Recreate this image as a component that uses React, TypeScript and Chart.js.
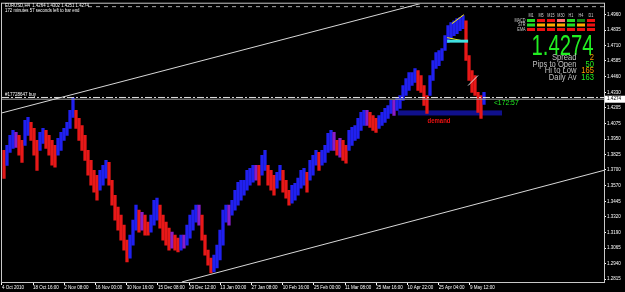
import React, { useEffect, useRef } from "react";
import { Chart, registerables } from "chart.js";
Chart.register(...registerables);

// ---- data (EURUSD H4, one entry per ~3 bars) ----
const highs = [
  1.3859, 1.39, 1.3981, 1.4021, 1.4005, 1.3981, 1.394, 1.4102, 1.4126, 1.4086,
  1.4037, 1.394, 1.4005, 1.4037, 1.4021, 1.3981, 1.394, 1.39, 1.3956, 1.4005,
  1.4037, 1.4086, 1.4183, 1.4288, 1.4183, 1.4118, 1.4061, 1.3981, 1.3859, 1.3778,
  1.3697, 1.3657, 1.3697, 1.3738, 1.3778, 1.3762, 1.3616, 1.3495, 1.3398, 1.3333,
  1.3252, 1.3131, 1.3171, 1.3293, 1.3414, 1.3374, 1.3357, 1.3333, 1.3276, 1.3333,
  1.3454, 1.3471, 1.3414, 1.3333, 1.3276, 1.3228, 1.3195, 1.3171, 1.3147, 1.3171,
  1.3171, 1.3252, 1.3333, 1.3374, 1.3414, 1.3414, 1.3333, 1.3171, 1.305, 1.2985,
  1.3009, 1.309, 1.3212, 1.3374, 1.3414, 1.3414, 1.3454, 1.3535, 1.36, 1.3616,
  1.3616, 1.3697, 1.3713, 1.3738, 1.3738, 1.3738, 1.3819, 1.3859, 1.3738, 1.3697,
  1.3657, 1.3681, 1.3738, 1.3697, 1.3616, 1.3535, 1.3576, 1.3592, 1.3633, 1.3697,
  1.3713, 1.3681, 1.3778, 1.3819, 1.3859, 1.3843, 1.3859, 1.39, 1.3997, 1.4021,
  1.4005, 1.394, 1.3956, 1.394, 1.39, 1.4021, 1.4045, 1.4061, 1.4118, 1.4167,
  1.4183, 1.4183, 1.4167, 1.4142, 1.4118, 1.4142, 1.4167, 1.4199, 1.4223, 1.4264,
  1.4264, 1.428, 1.4304, 1.4385, 1.4442, 1.449, 1.449, 1.4523, 1.4507, 1.4466,
  1.4385, 1.4304, 1.4466, 1.4588, 1.4652, 1.4669, 1.4685, 1.479, 1.4871, 1.4895,
  1.4911, 1.4928, 1.4936, 1.4952, 1.4911, 1.4628, 1.4507, 1.4466, 1.4329, 1.4304,
  1.4329,
];
const lows = [
  1.3632, 1.3737, 1.3843, 1.3875, 1.3883, 1.3819, 1.3762, 1.39, 1.3981, 1.394,
  1.3819, 1.3697, 1.3859, 1.3916, 1.3875, 1.3819, 1.3738, 1.3722, 1.3819, 1.3859,
  1.394, 1.3981, 1.4037, 1.4126, 1.4037, 1.394, 1.3859, 1.3778, 1.3657, 1.3576,
  1.3519, 1.3454, 1.3535, 1.3576, 1.3633, 1.3576, 1.3414, 1.3293, 1.3212, 1.3131,
  1.305, 1.2953, 1.2985, 1.309, 1.3212, 1.3195, 1.3212, 1.3171, 1.3171, 1.3195,
  1.3252, 1.3293, 1.3228, 1.3131, 1.309, 1.305, 1.3066, 1.305, 1.3034, 1.305,
  1.3066, 1.309, 1.3147, 1.3212, 1.3276, 1.3252, 1.3131, 1.3009, 1.2928, 1.2864,
  1.2872, 1.2904, 1.2969, 1.309, 1.3276, 1.3252, 1.3333, 1.3374, 1.3414, 1.3454,
  1.3495, 1.3535, 1.3576, 1.36, 1.3616, 1.3576, 1.3657, 1.3697, 1.3576, 1.3535,
  1.3495, 1.3552, 1.3616, 1.3519, 1.3471, 1.3414, 1.343, 1.3454, 1.3495, 1.3552,
  1.3576, 1.3519, 1.3616, 1.3657, 1.3738, 1.3697, 1.3738, 1.3762, 1.3843, 1.3859,
  1.3859, 1.3819, 1.3803, 1.3778, 1.3754, 1.3859, 1.39, 1.394, 1.3956, 1.4021,
  1.4061, 1.4061, 1.4045, 1.4021, 1.4005, 1.4037, 1.4061, 1.4086, 1.4118, 1.4159,
  1.4142, 1.4183, 1.4199, 1.4264, 1.4304, 1.4345, 1.4385, 1.441, 1.4345, 1.4329,
  1.4223, 1.4159, 1.4304, 1.4426, 1.4523, 1.4547, 1.4588, 1.4669, 1.4733, 1.4766,
  1.479, 1.4806, 1.483, 1.4847, 1.4588, 1.4426, 1.4329, 1.4304, 1.4167, 1.4118,
  1.4231,
];

const priceTicks = [
  1.496, 1.4835, 1.471, 1.4585, 1.446, 1.433, 1.4205, 1.4075, 1.395, 1.3825,
  1.37, 1.357, 1.3445, 1.332, 1.319, 1.3065, 1.294, 1.2815,
];
const timeLabels = [
  "4 Oct 2010", "18 Oct 16:00", "2 Nov 08:00", "16 Nov 00:00", "30 Nov 16:00",
  "15 Dec 08:00", "29 Dec 12:00", "13 Jan 00:00", "27 Jan 08:00", "10 Feb 16:00",
  "25 Feb 00:00", "11 Mar 08:00", "25 Mar 16:00", "10 Apr 22:00", "25 Apr 04:00",
  "9 May 12:00",
];
const timeLabelBars = [-0.67, 9.7, 20.1, 30.5, 40.9, 51.3, 61.7, 72.1, 82.5, 92.9, 103.3, 113.7, 124.1, 134.5, 144.9, 155.3];

const bidPrice = 1.4274;
const orderPrice = 1.4288;
const topLevel = 1.5025;
const upperChannel = [ { x: -0.67, y: 1.4163 }, { x: 138.7, y: 1.5049 } ];
const lowerChannel = [ { x: 59.3, y: 1.2791 }, { x: 200, y: 1.3697 } ];
const yellowUpper = [ { x: 149.3, y: 1.4887 }, { x: 153.3, y: 1.496 } ];
const yellowLower = [ { x: 147.7, y: 1.4774 }, { x: 154.3, y: 1.4741 } ];
const whiteShort = [ { x: 154.7, y: 1.4385 }, { x: 158, y: 1.4466 } ];
const demandZone = { from: 131.3, to: 166, top: 1.4183, bottom: 1.4142 };
const cyanZone = { from: 147.7, to: 154.7, top: 1.4757, bottom: 1.4733 };

const dashRows = ["MACD", "STR", "EMA"];
const dashCols = ["M1", "M5", "M15", "M30", "H1", "H4", "D1"];
const dashColors = [
  ["#22dd22", "#ee1111", "#ee1111", "#ff7070", "#22dd22", "#118811", "#ee1111"],
  ["#22dd22", "#ffaa00", "#ffaa00", "#ffaa00", "#22dd22", "#ffaa00", "#ee1111"],
  ["#ee1111", "#ee1111", "#ee1111", "#ee1111", "#ee1111", "#ee1111", "#ee1111"],
];
const infoRows = [
  { label: "Spread", value: "2", color: "#ff9900" },
  { label: "Pips to Open", value: "50", color: "#22ee22" },
  { label: "Hi to Low", value: "165", color: "#ff9900" },
  { label: "Daily Av", value: "163", color: "#22ee22" },
];

const X_MIN = -0.667;
const X_MAX = 200;
const Y_MIN = 1.27907;
const Y_MAX = 1.5049;
const FONT = "'Liberation Sans', Arial, sans-serif";

const barData = highs.map((h, i) => ({ x: i, y: [lows[i], h] }));
const barColors = highs.map((h, i) => {
  if (i === 0) return "#e01818";
  const mid = (h + lows[i]) / 2;
  const prev = (highs[i - 1] + lows[i - 1]) / 2;
  if (Math.abs(mid - prev) < 0.0013) return "#8a1cc8";
  return mid > prev ? "#2020f0" : "#e81818";
});

function squeezeText(ctx: any, text: string, x: number, y: number, sx: number, align: string) {
  ctx.save();
  ctx.translate(x, y);
  ctx.scale(sx, 1);
  ctx.textAlign = align;
  ctx.fillText(text, 0, 0);
  ctx.restore();
}

const overlay = {
  id: "overlay",
  beforeDraw(chart: any) {
    const { ctx, width, height } = chart;
    ctx.save();
    ctx.fillStyle = "#000";
    ctx.fillRect(0, 0, width, height);
    ctx.restore();
  },
  beforeDatasetsDraw(chart: any) {
    const { ctx, chartArea: a, scales } = chart;
    const x = scales.x, y = scales.y;
    ctx.save();
    ctx.beginPath();
    ctx.rect(a.left, a.top, a.right - a.left, a.bottom - a.top);
    ctx.clip();
    const x1 = x.getPixelForValue(demandZone.from), x2 = x.getPixelForValue(demandZone.to);
    const y1 = y.getPixelForValue(demandZone.top), y2 = y.getPixelForValue(demandZone.bottom);
    ctx.fillStyle = "#10108c";
    ctx.fillRect(x1, y1, x2 - x1, y2 - y1);
    ctx.restore();
  },
  afterDatasetsDraw(chart: any) {
    const { ctx, chartArea: a, scales } = chart;
    const x = scales.x, y = scales.y;
    ctx.save();
    ctx.beginPath();
    ctx.rect(a.left, a.top, a.right - a.left, a.bottom - a.top);
    ctx.clip();
    const x1 = x.getPixelForValue(cyanZone.from), x2 = x.getPixelForValue(cyanZone.to);
    const y1 = y.getPixelForValue(cyanZone.top), y2 = y.getPixelForValue(cyanZone.bottom);
    ctx.fillStyle = "#40e0e0";
    ctx.fillRect(x1, y1, x2 - x1, y2 - y1);
    ctx.restore();
  },
  afterDraw(chart: any) {
    const { ctx, chartArea: a, scales } = chart;
    const x = scales.x, y = scales.y;
    ctx.save();
    // frame
    ctx.strokeStyle = "#c8c8c8";
    ctx.lineWidth = 1;
    ctx.strokeRect(a.left - 0.5, a.top - 0.5, a.right - a.left + 1, a.bottom - a.top + 1);

    // top-left info
    ctx.fillStyle = "#ffffff";
    ctx.font = "6px " + FONT;
    ctx.textBaseline = "middle";
    squeezeText(ctx, "EURUSD,H4  1.4264 1.4302 1.4251 1.4274", 5, 5.5, 0.72, "left");
    squeezeText(ctx, "172 minutes 57 seconds left to bar end", 5, 10.5, 0.72, "left");
    squeezeText(ctx, "#17728647 buy", 5, y.getPixelForValue(orderPrice) - 3.5, 0.75, "left");

    // demand label
    ctx.fillStyle = "#ee1111";
    ctx.font = "bold 7px " + FONT;
    squeezeText(ctx, "demand", x.getPixelForValue(145), y.getPixelForValue(1.4094), 0.85, "center");

    // bar timer
    ctx.fillStyle = "#22ee22";
    ctx.font = "8px " + FONT;
    squeezeText(ctx, "<172:57", x.getPixelForValue(163.3), y.getPixelForValue(1.4242), 0.85, "left");

    // dashboard
    const colX = [527, 537, 547, 557, 567, 577, 587];
    const rowY = [19, 23.5, 28];
    ctx.font = "5px " + FONT;
    ctx.fillStyle = "#d0d0d0";
    dashCols.forEach((c, i) => squeezeText(ctx, c, colX[i] + 4, 15.5, 0.75, "center"));
    dashRows.forEach((r, j) => squeezeText(ctx, r, 525.5, rowY[j] + 1.5, 0.75, "right"));
    dashColors.forEach((row, j) =>
      row.forEach((col, i) => {
        ctx.fillStyle = col;
        ctx.fillRect(colX[i], rowY[j], 8, 3);
      })
    );
    ctx.fillStyle = "#22ee22";
    ctx.font = "29px " + FONT;
    ctx.textBaseline = "alphabetic";
    squeezeText(ctx, bidPrice.toFixed(4), 562.5, 55, 0.7, "center");
    ctx.font = "9.5px " + FONT;
    ctx.textBaseline = "middle";
    infoRows.forEach((r, j) => {
      const yy = 57.5 + j * 6.6;
      ctx.fillStyle = "#c0c0c0";
      squeezeText(ctx, r.label, 576.5, yy, 0.8, "right");
      ctx.fillStyle = r.color;
      squeezeText(ctx, r.value, 594, yy, 0.8, "right");
    });

    // current price box
    const py = y.getPixelForValue(bidPrice);
    ctx.fillStyle = "#ffffff";
    ctx.fillRect(a.right + 1, py - 3.5, 20, 7);
    ctx.fillStyle = "#000";
    ctx.font = "4.6px " + FONT;
    squeezeText(ctx, bidPrice.toFixed(4), a.right + 3, py, 1, "left");
    ctx.restore();
  },
};

export default function App() {
  const ref = useRef<HTMLCanvasElement>(null);
  useEffect(() => {
    const hline = (p: number, from = X_MIN) => [ { x: from, y: p }, { x: X_MAX, y: p } ];
    const lineDs = (data: any, color: string, extra: any = {}) => ({
      type: "line",
      data,
      borderColor: color,
      borderWidth: 1,
      pointRadius: 0,
      order: 0,
      ...extra,
    });
    const chart = new Chart(ref.current as HTMLCanvasElement, {
      type: "bar",
      data: {
        datasets: [
          lineDs(upperChannel, "#d8d8d8"),
          lineDs(lowerChannel, "#d8d8d8"),
          lineDs(hline(orderPrice), "#e0e0e0", { borderDash: [7, 2, 2, 2] }),
          lineDs(hline(bidPrice), "#9a9a9a"),
          lineDs(hline(topLevel, 28), "#a8a8a8", { borderDash: [4, 4] }),
          lineDs(yellowUpper, "#ffee00"),
          lineDs(yellowLower, "#ffee00"),
          lineDs(whiteShort, "#e0e0e0"),
          {
            type: "bar",
            data: barData,
            backgroundColor: barColors,
            barThickness: 2.6,
            borderWidth: 0,
            order: 5,
          },
        ],
      } as any,
      options: {
        responsive: false,
        animation: false,
        devicePixelRatio: 1,
        layout: { padding: { left: 2, top: 3, right: 0, bottom: 0 } },
        plugins: { legend: { display: false }, tooltip: { enabled: false } },
        scales: {
          x: {
            type: "linear",
            min: X_MIN,
            max: X_MAX,
            offset: false,
            afterFit(s: any) { s.height = 10; },
            afterBuildTicks(s: any) { s.ticks = timeLabelBars.map((v) => ({ value: v })); },
            ticks: {
              autoSkip: false,
              maxRotation: 0,
              minRotation: 0,
              align: "start",
              color: "#ffffff",
              padding: 0,
              font: { size: 4.5, family: FONT },
              callback: (_v: any, i: number) => timeLabels[i],
            },
            grid: { drawOnChartArea: false, color: "#ffffff", tickLength: 3, offset: false },
            border: { color: "#c8c8c8" },
          },
          y: {
            position: "right",
            min: Y_MIN,
            max: Y_MAX,
            afterFit(s: any) { s.width = 21; },
            afterBuildTicks(s: any) { s.ticks = priceTicks.map((v) => ({ value: v })); },
            ticks: {
              autoSkip: false,
              color: "#ffffff",
              padding: 1,
              font: { size: 4.5, family: FONT },
              callback: (v: any) => Number(v).toFixed(4),
            },
            grid: { drawOnChartArea: false, color: "#ffffff", tickLength: 2 },
            border: { color: "#c8c8c8" },
          },
        },
      } as any,
      plugins: [overlay],
    });
    return () => chart.destroy();
  }, []);
  return (
    <div style={{ position: "fixed", left: 0, top: 0, width: 625, height: 292, background: "#000" }}>
      <canvas ref={ref} width={625} height={292} style={{ display: "block" }} />
    </div>
  );
}
